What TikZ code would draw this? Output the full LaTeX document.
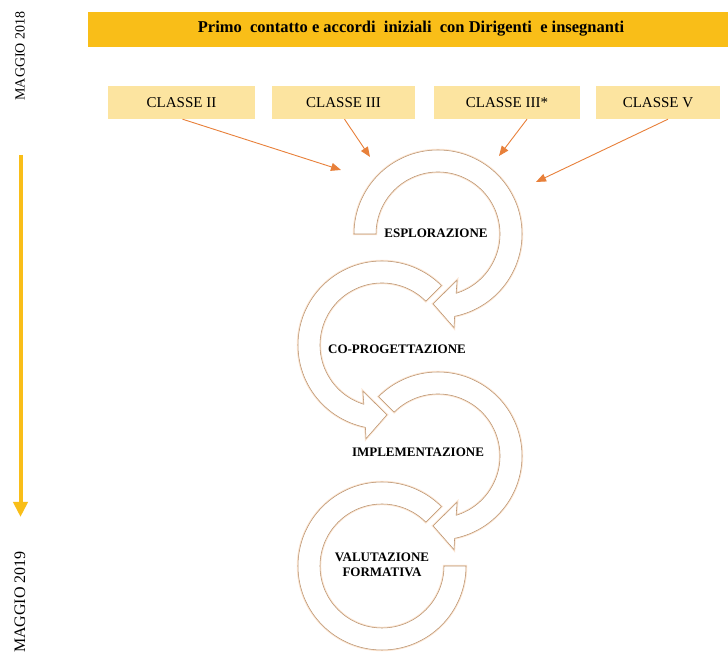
\documentclass[tikz,border=0pt]{standalone}
\usepackage{fontspec}
\setmainfont{Liberation Serif}
\usetikzlibrary{arrows.meta}

\definecolor{gold}{RGB}{249,190,24}
\definecolor{paleyellow}{RGB}{252,228,160}
\definecolor{feed}{RGB}{232,128,58}
\definecolor{ringline}{RGB}{186,146,110}
\definecolor{ringglow}{RGB}{251,228,208}

% circular arrow band, clockwise, with head at the lower right
\newcommand{\ringcw}[3]{%
  \begin{scope}[shift={(#1,#2)}]
    \path[ring] (#3:84) arc[start angle=#3, end angle=-78.6, radius=84]
      -- (-80.3:95) -- (-94:70) -- (-67.5:50) -- (-73:62)
      arc[start angle=-73, end angle=#3, radius=62] -- cycle;
  \end{scope}}
% circular arrow band, counter-clockwise, with head at the lower left
\newcommand{\ringccw}[3]{%
  \begin{scope}[shift={(#1,#2)}]
    \path[ring] (#3:84) arc[start angle=#3, end angle=258.6, radius=84]
      -- (260.3:95) -- (274:70) -- (247.5:50) -- (253:62)
      arc[start angle=253, end angle=#3, radius=62] -- cycle;
  \end{scope}}

\tikzset{
  ring/.style={fill=white, draw=ringline, line width=0.55pt,
    preaction={draw=ringglow, line width=2.4pt}},
  classbox/.style={fill=paleyellow, minimum height=33pt, inner sep=0pt,
    font=\fontsize{15}{18}\selectfont},
  feedarrow/.style={draw=feed, line width=0.9pt,
    -{Triangle[length=10pt,width=8pt]}},
  phase/.style={font=\fontsize{13}{14.5}\selectfont\bfseries, align=center},
  datelabel/.style={rotate=90, font=\fontsize{14}{16}\selectfont}
}

\begin{document}
\begin{tikzpicture}[x=1pt,y=1pt]
  \useasboundingbox (0,0) rectangle (728,652);
  \fill[white] (0,0) rectangle (728,652);

  % header bar
  \node[fill=gold, minimum width=640pt, minimum height=35pt, inner sep=0pt,
        anchor=center] (head) at (408,622.5) {};
  \node[font=\fontsize{16.5}{19}\selectfont\bfseries] (headtxt) at (411,623)
    {Primo\ \ contatto e accordi\ \ iniziali\ \ con Dirigenti\ \ e insegnanti};

  % class boxes
  \node[classbox, minimum width=147pt] (c2) at (181.5,549.5) {CLASSE II};
  \node[classbox, minimum width=143pt] (c3) at (343.5,549.5) {CLASSE III};
  \node[classbox, minimum width=146pt] (c3s) at (507,549.5) {CLASSE III*};
  \node[classbox, minimum width=124pt] (c5) at (658,549.5) {CLASSE V};

  % arrow targets around the first ring
  \coordinate (t1) at (341,482);
  \coordinate (t2) at (370,495);
  \coordinate (t3) at (499,496);
  \coordinate (t4) at (536,470);

  \draw[feedarrow] ([xshift=1pt]c2.south) -- (t1);
  \draw[feedarrow] ([xshift=1pt]c3.south) -- (t2);
  \draw[feedarrow] ([xshift=20pt]c3s.south) -- (t3);
  \draw[feedarrow] ([xshift=10pt]c5.south) -- (t4);

  % timeline
  \node[datelabel] (d18) at (20,596) {MAGGIO 2018};
  \coordinate (tl1) at (20.5,497);
  \coordinate (tl2) at (20.5,135);
  \draw[gold, line width=4pt, -{Triangle[length=15pt,width=14pt]}] (tl1) -- (tl2);
  \node[datelabel, font=\fontsize{16}{18}\selectfont] (d19) at (20,50) {MAGGIO 2019};

  % process rings
  \ringccw{382}{307}{45}
  \ringcw{438}{418}{180}
  \ringcw{438}{196}{135}
  \begin{scope}[shift={(382,86)}]
    \path[ring] (45:84) arc[start angle=45, end angle=360, radius=84]
      -- (0:62) arc[start angle=360, end angle=45, radius=62] -- cycle;
  \end{scope}

  % phase labels
  \node[phase] (p1) at (436,419) {ESPLORAZIONE};
  \node[phase] (p2) at (397,303) {CO-PROGETTAZIONE};
  \node[phase] (p3) at (418,200) {IMPLEMENTAZIONE};
  \node[phase] (p4) at (382,87) {VALUTAZIONE\\FORMATIVA};
\end{tikzpicture}
\end{document}
